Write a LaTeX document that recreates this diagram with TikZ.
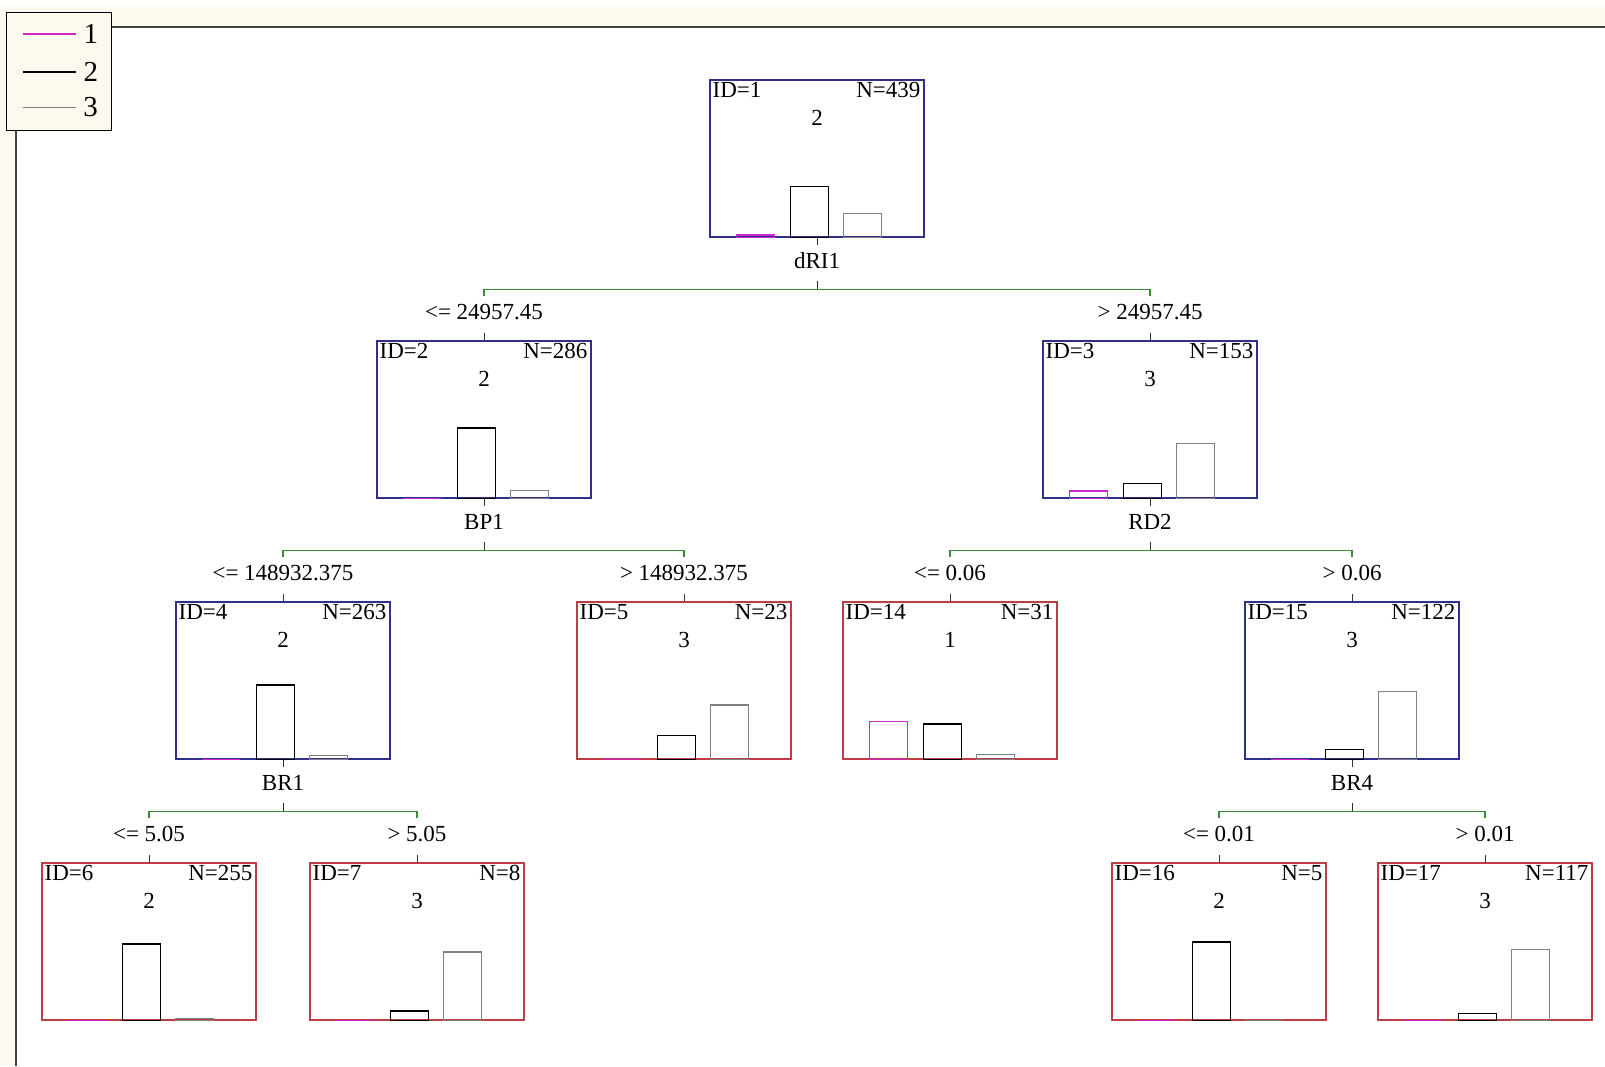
\documentclass[tikz,border=0pt]{standalone}
\usepackage{fontspec}
\setmainfont{Liberation Serif}
\usepackage{xcolor}
\definecolor{trblue}{RGB}{48,48,140}
\definecolor{trred}{RGB}{192,60,68}
\definecolor{trgreen}{RGB}{56,140,56}
\definecolor{trmag}{RGB}{204,40,204}
\definecolor{trgray}{RGB}{128,128,128}
\definecolor{trcream}{RGB}{252,250,238}
\usetikzlibrary{calc}

\begin{document}
\begin{tikzpicture}[x=0.5pt,y=-0.5pt,
  box/.style={draw,line width=0.8pt,fill=white,minimum width=107pt,minimum height=78.5pt,inner sep=0pt,anchor=north},
  split/.style={box,draw=trblue},
  leaf/.style={box,draw=trred},
  lb/.style={font=\fontsize{11.5}{13}\selectfont,inner sep=0pt},
  tk/.style={draw=black!80,line width=0.5pt},
  br/.style={draw=trgreen,line width=0.6pt},
  b1/.style={draw=trmag,line width=0.6pt},
  b2/.style={draw=black,line width=0.7pt},
  b3/.style={draw=trgray,line width=0.6pt}]
  \useasboundingbox (0,0) rectangle (1605,1066);
  \fill[white] (0,0) rectangle (1605,1066);
  \fill[trcream] (0,7) rectangle (1605,27);
  \fill[trcream] (0,7) rectangle (16,1066);
  \draw[black!75,line width=0.8pt] (111,27) -- (1605,27);
  \draw[black!75,line width=0.8pt] (16,130) -- (16,1066);

  \node[draw,fill=trcream,line width=0.7pt,minimum width=52.5pt,minimum height=59pt,inner sep=0pt,anchor=north west] (lg) at (6,12) {};
  \draw[b1] ($(lg.north west)+(17,22)$) -- ++(53,0) node[right,inner sep=0pt,xshift=3.5pt,font=\fontsize{14.5}{16}\selectfont,black] {1};
  \draw[b2,line width=0.6pt] ($(lg.north west)+(17,60)$) -- ++(53,0) node[right,inner sep=0pt,xshift=3.5pt,font=\fontsize{14.5}{16}\selectfont] {2};
  \draw[b3,line width=0.4pt] ($(lg.north west)+(17,95)$) -- ++(53,0) node[right,inner sep=0pt,xshift=3.5pt,font=\fontsize{14.5}{16}\selectfont,black] {3};

  \node[split] (n1) at (817,79) {};
  \node[split] (n2) at (484,340) {};
  \node[split] (n3) at (1150,340) {};
  \node[split] (n4) at (283,601) {};
  \node[leaf] (n5) at (684,601) {};
  \node[leaf] (n14) at (950,601) {};
  \node[split] (n15) at (1352,601) {};
  \node[leaf] (n6) at (149,862) {};
  \node[leaf] (n7) at (417,862) {};
  \node[leaf] (n16) at (1219,862) {};
  \node[leaf] (n17) at (1485,862) {};

  \foreach \n/\i/\N/\k/\a/\b/\c in {n1/1/439/2/15/287/137, n2/2/286/2/0/257/29, n3/3/153/3/15/30/108,
      n4/4/263/2/0/250/13, n5/5/23/3/0/7/16, n14/14/31/1/15/14/2, n15/15/122/3/0/16/106,
      n6/6/255/2/0/249/6, n7/7/8/3/0/1/7, n16/16/5/2/0/5/0, n17/17/117/3/0/11/106}{
    \node[lb,anchor=west] at ($(\n.north west)+(3,11)$) {ID=\i};
    \node[lb,anchor=east] at ($(\n.north east)+(-4,11)$) {N=\N};
    \node[lb] at ($(\n.north)+(0,39)$) {\k};
    \draw[b1] ($(\n.south west)+(27,0)$) rectangle ++(38,{-78.5*(\a/\N)});
    \draw[b2] ($(\n.south west)+(81,0)$) rectangle ++(38,{-78.5*(\b/\N)});
    \draw[b3] ($(\n.south west)+(134,0)$) rectangle ++(38,{-78.5*(\c/\N)});
  }

  \foreach \p/\l/\r/\t in {n1/n2/n3/dRI1, n2/n4/n5/BP1, n3/n14/n15/RD2, n4/n6/n7/BR1, n15/n16/n17/BR4}{
    \node[lb] (s\p) at ($(\p.south)+(0,23)$) {\t};
    \coordinate (j\p) at ($(\p.south)+(0,52)$);
    \draw[tk] (\p.south) -- ++(0,7);
    \draw[tk] ($(j\p)+(0,-9)$) -- (j\p);
    \draw[br] ($(\l.north |- j\p)+(0,6)$) -- (\l.north |- j\p) -- (\r.north |- j\p) -- ++(0,6);
    \draw[tk] (\l.north) -- ++(0,-7);
    \draw[tk] (\r.north) -- ++(0,-7);
  }

  \foreach \n/\t in {n2/{<= 24957.45}, n3/{> 24957.45}, n4/{<= 148932.375}, n5/{> 148932.375},
      n14/{<= 0.06}, n15/{> 0.06}, n6/{<= 5.05}, n7/{> 5.05}, n16/{<= 0.01}, n17/{> 0.01}}{
    \node[lb] (c\n) at ($(\n.north)+(0,-28)$) {\t};
  }
\end{tikzpicture}
\end{document}
